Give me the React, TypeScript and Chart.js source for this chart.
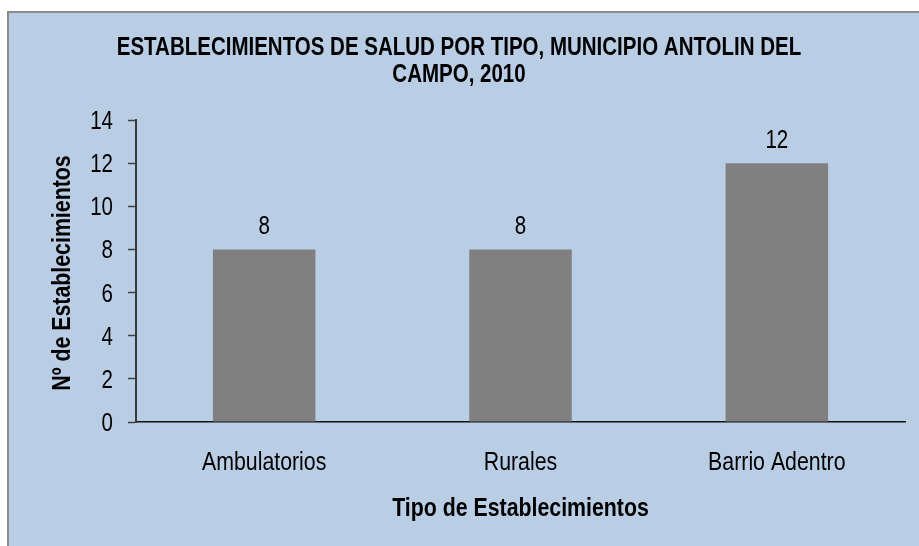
import React, { useEffect, useRef } from "react";
import { Chart, registerables } from "chart.js";

Chart.register(...registerables);

const categories = ["Ambulatorios", "Rurales", "Barrio Adentro"];
const values = [8, 8, 12];
const titleLines = ["ESTABLECIMIENTOS DE SALUD POR TIPO, MUNICIPIO ANTOLIN DEL", "CAMPO, 2010"];
const yAxisTitle = "Nº de Establecimientos";
const xAxisTitle = "Tipo de Establecimientos";
const yMin = 0;
const yMax = 14;
const yStep = 2;

const FONT = '"Liberation Sans", Arial, sans-serif';
const NARROW = 0.82;

function narrowText(
  ctx: CanvasRenderingContext2D,
  text: string,
  x: number,
  y: number,
  size: number,
  bold: boolean,
  align: CanvasTextAlign,
  rotate = false
) {
  ctx.save();
  ctx.translate(x, y);
  if (rotate) ctx.rotate(-Math.PI / 2);
  ctx.scale(NARROW, 1);
  ctx.font = `${bold ? "bold " : ""}${size}px ${FONT}`;
  ctx.fillStyle = "#000";
  ctx.textAlign = align;
  ctx.textBaseline = "alphabetic";
  ctx.fillText(text, 0, 0);
  ctx.restore();
}

const textPlugin = {
  id: "narrowTexts",
  afterDraw(chart: any) {
    const ctx = chart.ctx as CanvasRenderingContext2D;
    const area = chart.chartArea;
    const xs = chart.scales.x;
    const ys = chart.scales.y;
    // title
    narrowText(ctx, titleLines[0], 459, 55, 25, true, "center");
    narrowText(ctx, titleLines[1], 459, 82, 25, true, "center");
    // y tick labels
    ys.ticks.forEach((t: any) => {
      const py = ys.getPixelForValue(t.value);
      narrowText(ctx, String(t.value), area.left - 23, py + 9, 25, false, "right");
    });
    // x tick labels
    categories.forEach((c, i) => {
      narrowText(ctx, c, xs.getPixelForValue(i), 470, 26, false, "center");
    });
    // value labels
    const meta = chart.getDatasetMeta(0);
    meta.data.forEach((bar: any, i: number) => {
      narrowText(ctx, String(values[i]), bar.x, bar.y - 15, 25, false, "center");
    });
    // axis titles
    narrowText(ctx, xAxisTitle, (area.left + area.right) / 2, 516, 26, true, "center");
    narrowText(ctx, yAxisTitle, 70, (area.top + area.bottom) / 2 + 2, 26, true, "center", true);
  },
};

export default function App() {
  const ref = useRef<HTMLCanvasElement>(null);
  useEffect(() => {
    document.body.style.margin = "0";
    const chart = new Chart(ref.current!, {
      type: "bar",
      data: {
        labels: categories,
        datasets: [
          {
            data: values,
            backgroundColor: "#808080",
            borderWidth: 0,
            barPercentage: 0.4,
            categoryPercentage: 1,
          },
        ],
      },
      options: {
        responsive: false,
        animation: false,
        layout: { padding: { left: 0, right: 14, top: 120, bottom: 0 } },
        plugins: {
          legend: { display: false },
          tooltip: { enabled: false },
          title: { display: false },
        },
        scales: {
          x: {
            afterFit: (s: any) => {
              s.height = 124;
            },
            grid: { display: false, drawTicks: false },
            border: { display: true, color: "#111", width: 1.5 },
            ticks: { display: false },
          },
          y: {
            min: yMin,
            max: yMax,
            afterFit: (s: any) => {
              s.width = 136;
            },
            grid: {
              display: true,
              drawOnChartArea: false,
              drawTicks: true,
              tickLength: 8,
              tickColor: "#404040",
              tickWidth: 1.5,
            },
            border: { display: true, color: "#3a3a3a", width: 2 },
            ticks: { display: false, stepSize: yStep },
          },
        },
      },
      plugins: [textPlugin],
    });
    return () => chart.destroy();
  }, []);

  return (
    <div style={{ position: "fixed", left: 0, top: 0, width: 919, height: 546, background: "#fff", overflow: "hidden" }}>
      <div
        style={{
          position: "absolute",
          left: 7,
          top: 11,
          width: 960,
          height: 600,
          border: "2px solid #8c8c8c",
          background: "#B9CDE5",
        }}
      />
      <canvas ref={ref} width={919} height={546} style={{ position: "absolute", left: 0, top: 0, width: 919, height: 546 }} />
    </div>
  );
}
